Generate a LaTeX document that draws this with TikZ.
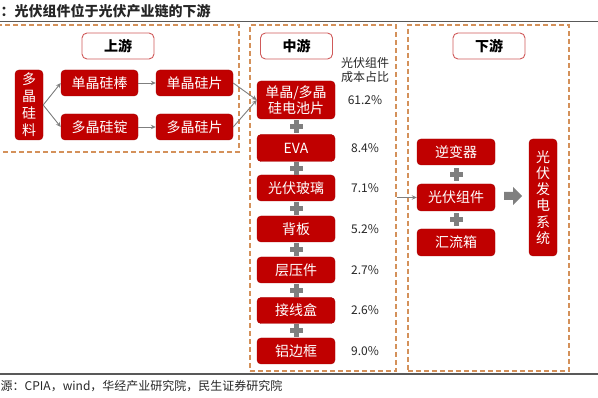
\documentclass[tikz,border=0pt]{standalone}
\usepackage{fontspec}
\setmainfont{Noto Sans CJK SC}
\usetikzlibrary{arrows.meta}
\definecolor{boxred}{HTML}{C00000}
\definecolor{hdrred}{HTML}{D05A5A}
\definecolor{dashor}{HTML}{D4915A}
\definecolor{arrgray}{HTML}{7F7F7F}
\definecolor{txtgray}{HTML}{262626}
\definecolor{rulegray}{HTML}{595959}
\begin{document}
\begin{tikzpicture}[x=1pt,y=-1pt,
 redbox/.style={fill=boxred, draw=boxred!85!black, line width=0.4pt, rounded corners=4pt, text=white, font=\fontsize{14}{16}\selectfont, inner sep=0pt, align=center},
 hdr/.style={fill=white, draw=hdrred, line width=0.9pt, rounded corners=5pt, font=\bfseries\fontsize{14}{16}\selectfont, text=black, minimum width=72pt, minimum height=26pt, inner sep=0pt},
 stage/.style={draw=dashor, dash pattern=on 5pt off 3pt, line width=1.1pt, inner sep=0pt},
 conn/.style={draw=arrgray, line width=0.9pt, -{Stealth[length=5pt,width=4.5pt]}},
 pct/.style={text=txtgray, font=\fontsize{12}{14}\selectfont, inner sep=0pt},
 plusmark/.pic={\fill[arrgray] (-6.5,-2.5) rectangle (6.5,2.5); \fill[arrgray] (-2.5,-6.5) rectangle (2.5,6.5);},
 rule/.style={draw=rulegray, line width=1.6pt}
]
\useasboundingbox (0,0) rectangle (598,398);

% title and rules
\node[anchor=base west, font=\bfseries\fontsize{14}{16}\selectfont, text=txtgray, inner sep=0pt] (title) at (0.5,17) {：光伏组件位于光伏产业链的下游};
\draw[rule] (0,21.5) -- (598,21.5);
\draw[rule] (0,374) -- (598,374);
\node[anchor=west, font=\fontsize{12}{14}\selectfont, text=txtgray, inner sep=0pt] (src) at (0.5,386) {源：CPIA，wind，华经产业研究院，民生证券研究院};

% stage boxes
\node[stage, minimum width=244pt, minimum height=127pt] (up) at (117,88.5) {};
\node[stage, minimum width=146pt, minimum height=346pt] (mid) at (323,198) {};
\node[stage, minimum width=161pt, minimum height=346pt] (down) at (488.5,198) {};

% headers
\node[hdr] (hup) at (118,46) {上游};
\node[hdr] (hmid) at (296.5,46) {中游};
\node[hdr] (hdown) at (489,46) {下游};

% upstream
\node[redbox, minimum width=28pt, minimum height=70pt, font=\fontsize{14}{17}\selectfont] (raw) at (29,105) {多\\晶\\硅\\料};
\node[redbox, minimum width=77pt, minimum height=26pt] (rod) at (99.5,83) {单晶硅棒};
\node[redbox, minimum width=77pt, minimum height=26pt] (ingot) at (99.5,127) {多晶硅锭};
\node[redbox, minimum width=77pt, minimum height=26pt] (mwafer) at (194.5,83) {单晶硅片};
\node[redbox, minimum width=77pt, minimum height=26pt] (pwafer) at (194.5,127) {多晶硅片};

% midstream
\node[redbox, minimum width=78pt, minimum height=38pt, font=\fontsize{14}{15.5}\selectfont] (cell) at (296,100) {单晶/多晶\\硅电池片};
\node[redbox, minimum width=78pt, minimum height=27pt] (eva) at (296,148) {EVA};
\node[redbox, minimum width=78pt, minimum height=26pt] (glass) at (296,188) {光伏玻璃};
\node[redbox, minimum width=78pt, minimum height=26pt] (back) at (296,229) {背板};
\node[redbox, minimum width=78pt, minimum height=26pt] (lam) at (296,270) {层压件};
\node[redbox, minimum width=78pt, minimum height=26pt] (jbox) at (296,310.5) {接线盒};
\node[redbox, minimum width=78pt, minimum height=26pt] (frame) at (296,351) {铝边框};

\pic at (296,126.5) {plusmark};
\pic at (296,168.5) {plusmark};
\pic at (296,208.5) {plusmark};
\pic at (296,249.5) {plusmark};
\pic at (296,290.5) {plusmark};
\pic at (296,330.5) {plusmark};

\node[pct, align=center, font=\fontsize{12}{14}\selectfont] (pcthead) at (365,70) {光伏组件\\成本占比};
\node[pct] (p1) at (365,100) {61.2\%};
\node[pct] (p2) at (365,148) {8.4\%};
\node[pct] (p3) at (365,188) {7.1\%};
\node[pct] (p4) at (365,229) {5.2\%};
\node[pct] (p5) at (365,270) {2.7\%};
\node[pct] (p6) at (365,310.5) {2.6\%};
\node[pct] (p7) at (365,351) {9.0\%};

% downstream
\node[redbox, minimum width=78pt, minimum height=26pt] (inv) at (456,152) {逆变器};
\node[redbox, minimum width=78pt, minimum height=27pt] (module) at (456,197.5) {光伏组件};
\node[redbox, minimum width=78pt, minimum height=27pt] (combiner) at (456,242.5) {汇流箱};
\node[redbox, minimum width=28pt, minimum height=117pt, font=\fontsize{14}{16.3}\selectfont] (system) at (543,197.5) {光\\伏\\发\\电\\系\\统};
\pic at (456,174.5) {plusmark};
\pic at (456,220) {plusmark};
\fill[arrgray] (504,192) -- (513,192) -- (513,187) -- (522,196) -- (513,205) -- (513,200) -- (504,200) -- cycle;

% connectors
\draw[conn] (raw.east) -- (rod.west);
\draw[conn] (raw.east) -- (ingot.west);
\draw[conn] (rod.east) -- (mwafer.west);
\draw[conn] (ingot.east) -- (pwafer.west);
\draw[conn] (mwafer.east) -- (cell.west);
\draw[conn] (pwafer.east) -- (cell.west);
\draw[conn] (module.west -| mid.east) -- (module.west);
\end{tikzpicture}
\end{document}
